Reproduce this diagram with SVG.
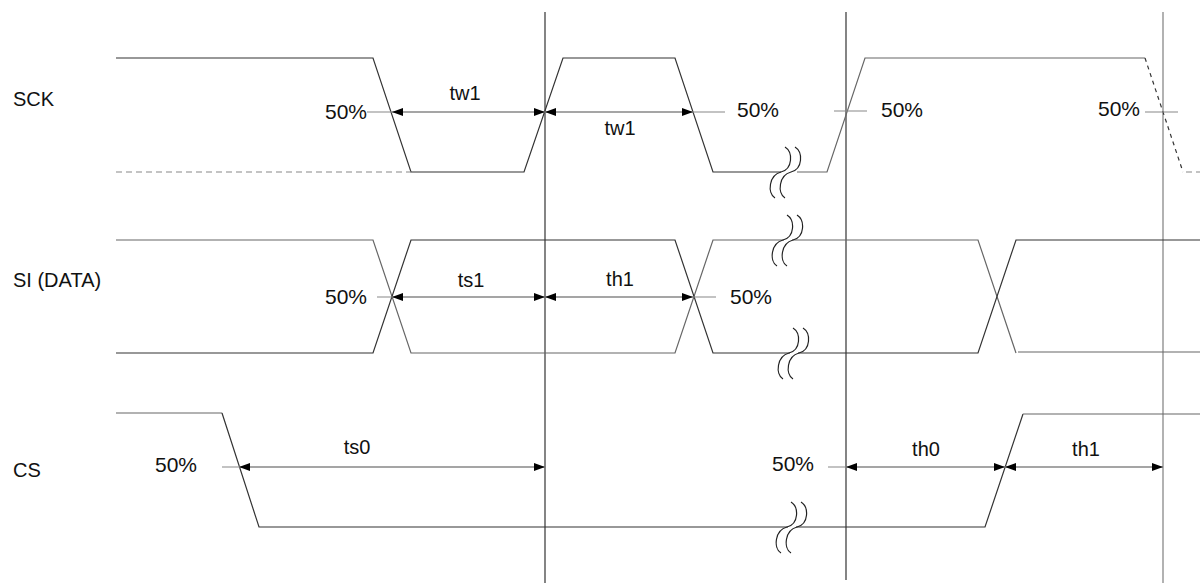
<svg xmlns="http://www.w3.org/2000/svg" width="1200" height="583" viewBox="0 0 1200 583">
<defs>
<style>
text{font-family:"Liberation Sans",Arial,sans-serif;font-size:20px;fill:#111}
text.p{font-size:21px}
.w{fill:none;stroke:#333;stroke-width:1.2}
.g{fill:none;stroke:#666;stroke-width:1.2}
.d{fill:none;stroke:#888;stroke-width:1.2;stroke-dasharray:6 4}
.dk{fill:none;stroke:#333;stroke-width:1.2;stroke-dasharray:4 4}
.v{stroke:#333;stroke-width:1.2}
.vg{stroke:#999;stroke-width:1.5}
.ref{stroke:#888;stroke-width:1.2}
.arr{stroke:#888;stroke-width:1.2;marker-start:url(#ah);marker-end:url(#ah)}
.brk{fill:none;stroke:#222;stroke-width:1.2}
</style>
<marker id="ah" markerUnits="userSpaceOnUse" markerWidth="12" markerHeight="10" refX="11" refY="4" orient="auto-start-reverse">
<path d="M0,0 L11,4 L0,8 z" fill="#000"/>
</marker>
<g id="brksym">
<rect x="-7" y="-3" width="8" height="6" fill="#fff"/>
<path class="brk" d="M -4,-25 C 4,-20 4,-3 -8,0 C -20,3 -22,21 -14,26"/>
<path class="brk" d="M 6,-25 C 14,-20 14,-3 2,0 C -10,3 -12,21 -4,26"/>
</g>
</defs>
<rect width="1200" height="583" fill="#fff"/>

<g id="timing-lines">
<line class="v" x1="545" y1="12" x2="545" y2="583"/>
<line class="v" x1="846" y1="12" x2="846" y2="580"/>
<line class="vg" x1="1163" y1="12" x2="1163" y2="583"/>
</g>

<g id="sck">
<text x="13" y="106">SCK</text>
<path class="w" d="M116,58 H373 L411,172 H524 L563,58 H675 L713,172 H781"/>
<path class="g" d="M797,172 H827 L865,58 H1145"/>
<path class="d" d="M116,172 H411"/>
<path class="dk" d="M1145,58 L1183,172"/>
<path class="d" d="M1186,172 H1200"/>
<use href="#brksym" x="789" y="172"/>
</g>

<g id="si">
<text x="13" y="287">SI (DATA)</text>
<path class="g" d="M116,240 H373 L411,353 H675 L713,240 H978 L1016,353"/>
<path class="w" d="M116,353 H373 L411,240 H675 L713,353 H978 L1016,240 H1200"/>
<path class="g" d="M1018,352 H1200"/>
<use href="#brksym" x="791" y="240"/>
<use href="#brksym" x="797" y="353"/>
</g>

<g id="cs">
<text x="13" y="477">CS</text>
<path class="g" d="M116,413 H222"/>
<path class="w" d="M222,413 L259,527 H985 L1023,414"/>
<path class="g" d="M1023,414 H1200"/>
<use href="#brksym" x="795" y="527"/>
</g>

<g id="connectors">
<line class="ref" x1="367" y1="112" x2="725" y2="112"/>
<line class="arr" x1="392" y1="112" x2="545" y2="112"/>
<line class="arr" x1="545" y1="112" x2="693" y2="112"/>
<line class="ref" x1="834" y1="111" x2="867" y2="111"/>
<line class="ref" x1="1145" y1="112" x2="1178" y2="112"/>

<line class="ref" x1="377" y1="297" x2="716" y2="297"/>
<line class="arr" x1="392" y1="297" x2="545" y2="297"/>
<line class="arr" x1="545" y1="297" x2="693" y2="297"/>

<line class="ref" x1="222" y1="467" x2="545" y2="467"/>
<line class="arr" x1="239" y1="467" x2="545" y2="467"/>
<line class="ref" x1="828" y1="467" x2="1163" y2="467"/>
<line class="arr" x1="846" y1="467" x2="1005" y2="467"/>
<line class="arr" x1="1005" y1="467" x2="1163" y2="467"/>
</g>

<g id="labels">
<text class="p" x="367" y="119" text-anchor="end">50%</text>
<text class="p" x="737" y="117">50%</text>
<text class="p" x="881" y="117">50%</text>
<text class="p" x="1140" y="116" text-anchor="end">50%</text>
<text x="465" y="100" text-anchor="middle">tw1</text>
<text x="620" y="135" text-anchor="middle">tw1</text>

<text class="p" x="367" y="304" text-anchor="end">50%</text>
<text class="p" x="730" y="304">50%</text>
<text x="471" y="287" text-anchor="middle">ts1</text>
<text x="620" y="286" text-anchor="middle">th1</text>

<text class="p" x="155" y="472">50%</text>
<text class="p" x="772" y="471">50%</text>
<text x="357" y="454" text-anchor="middle">ts0</text>
<text x="926" y="456" text-anchor="middle">th0</text>
<text x="1086" y="456" text-anchor="middle">th1</text>
</g>
</svg>
